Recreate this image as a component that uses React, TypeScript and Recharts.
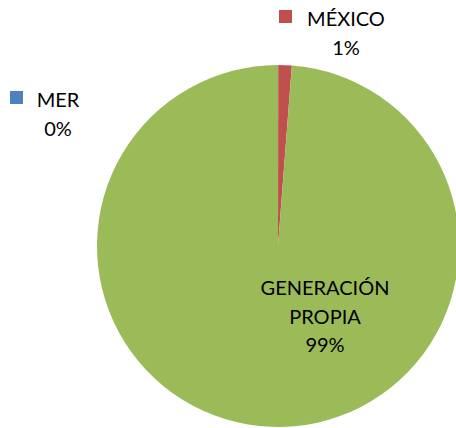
import { PieChart, Pie, Cell } from 'recharts';

const names = ['MER', 'MÉXICO', 'GENERACIÓN PROPIA'];
const values = [0.02, 1.2, 98.78];
const colors = ['#4F81BD', '#C0504D', '#9BBB59'];

// label lines per slice, and where each label sits relative to the pie centre
const labelLines = [['MER'], ['MÉXICO'], ['GENERACIÓN', 'PROPIA']];
const labelOffsets = [
	{ dx: -220, dy: -139, keyDx: -48 },
	{ dx: 68, dy: -220, keyDx: -67 },
	{ dx: 47, dy: 49, keyDx: null },
];

const data = names.map((name, i) => ({ name, value: values[i] }));

const FONT = 'Lato, "Open Sans", sans-serif';

function renderLabel(props: any) {
	const { cx, cy, percent, index } = props;
	const off = labelOffsets[index];
	const lines = [...labelLines[index], `${Math.round(percent * 100)}%`];
	const x = cx + off.dx;
	const y = cy + off.dy;
	const lineH = 28.5;
	return (
		<g key={`lbl-${index}`}>
			{off.keyDx !== null && (
				<rect x={x + off.keyDx} y={y - 16} width={13} height={13} fill={colors[index]} />
			)}
			{lines.map((t, i) => (
				<text
					key={i}
					x={x}
					y={y + i * lineH}
					textAnchor="middle"
					fontFamily={FONT}
					fontSize={20}
					fill="#000"
				>
					{t}
				</text>
			))}
		</g>
	);
}

export default function App() {
	return (
		<div style={{ width: 456, height: 428, background: '#fff' }}>
			<style>{`body{margin:0}`}</style>
			<PieChart width={456} height={428} margin={{ top: 0, right: 0, bottom: 0, left: 0 }}>
				<Pie
					data={data}
					dataKey="value"
					nameKey="name"
					cx={278}
					cy={246}
					outerRadius={181}
					startAngle={90}
					endAngle={-270}
					stroke="none"
					label={renderLabel}
					labelLine={false}
					isAnimationActive={false}
				>
					{data.map((entry, index) => (
						<Cell key={`cell-${index}`} fill={colors[index]} />
					))}
				</Pie>
			</PieChart>
		</div>
	);
}
